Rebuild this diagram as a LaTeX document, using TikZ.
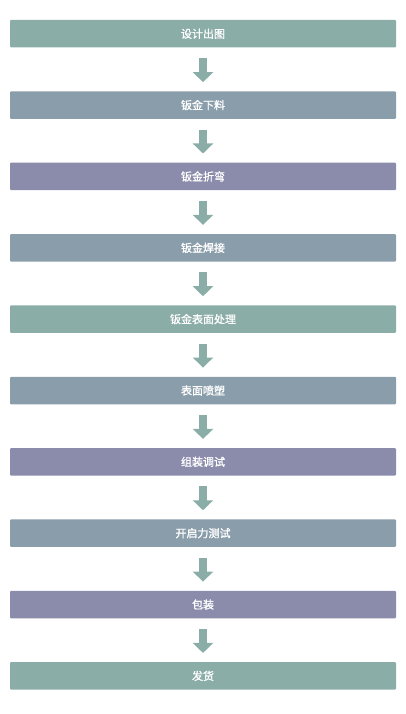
\documentclass[tikz,border=0pt]{standalone}
\usepackage{fontspec}
\newfontfamily\cjk{Noto Sans CJK SC}[FakeBold=1.2]
\usetikzlibrary{arrows.meta}
\definecolor{cgreen}{HTML}{8BADA7}
\definecolor{cblue}{HTML}{8A9DAB}
\definecolor{cpurple}{HTML}{8B8CAB}
\tikzset{
  stepbox/.style={draw=none, rounded corners=1pt, minimum width=386pt, minimum height=27.5pt,
    inner sep=0pt, text=white, font=\cjk\fontsize{11}{13}\selectfont},
  flowarrow/.style={draw=cgreen, line width=8pt, line cap=butt,
    -{Triangle[width=20pt,length=10pt]}, shorten <=10.5pt, shorten >=9pt}
}
\begin{document}
\begin{tikzpicture}[x=1pt,y=-1pt]
\useasboundingbox (0,0) rectangle (406,714);
\node[stepbox, fill=cgreen]  (b0) at (203,33.75) {设计出图};
\node[stepbox, fill=cblue]   (b1) at (203,105.1) {钣金下料};
\node[stepbox, fill=cpurple] (b2) at (203,176.45) {钣金折弯};
\node[stepbox, fill=cblue]   (b3) at (203,247.8) {钣金焊接};
\node[stepbox, fill=cgreen]  (b4) at (203,319.15) {钣金表面处理};
\node[stepbox, fill=cblue]   (b5) at (203,390.5) {表面喷塑};
\node[stepbox, fill=cpurple] (b6) at (203,461.85) {组装调试};
\node[stepbox, fill=cblue]   (b7) at (203,533.2) {开启力测试};
\node[stepbox, fill=cpurple] (b8) at (203,604.55) {包装};
\node[stepbox, fill=cgreen]  (b9) at (203,675.9) {发货};
\foreach \a/\b in {b0/b1,b1/b2,b2/b3,b3/b4,b4/b5,b5/b6,b6/b7,b7/b8,b8/b9}
  \draw[flowarrow] (\a.south) -- (\b.north);
\end{tikzpicture}
\end{document}
